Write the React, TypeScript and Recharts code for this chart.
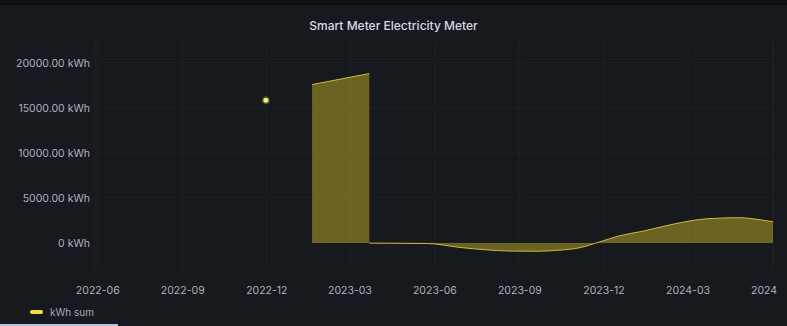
import {
  ComposedChart,
  Area,
  Line,
  XAxis,
  YAxis,
  CartesianGrid,
  Legend,
} from 'recharts';

// readings, kWh
const dotDates = ['2022-11-30'];
const dotValues = [15820];

const surgeDates = ['2023-01-19', '2023-03-22'];
const surgeValues = [17560, 18780];

const usageDates = [
  '2023-03-22', '2023-04-25', '2023-05-24', '2023-06-28', '2023-07-25',
  '2023-08-21', '2023-09-18', '2023-10-14', '2023-11-04', '2023-11-26',
  '2023-12-18', '2024-01-12', '2024-02-17', '2024-03-24', '2024-04-26',
  '2024-05-18', '2024-06-01',
];
const usageValues = [
  -20, -40, -60, -500, -750,
  -900, -920, -800, -550, 100,
  800, 1300, 2150, 2700, 2800,
  2570, 2350,
];

const xTicks = [
  '2022-06-01', '2022-09-01', '2022-12-01', '2023-03-01', '2023-06-01',
  '2023-09-01', '2023-12-01', '2024-03-01', '2024-06-01',
];
const yTicks = [0, 5000, 10000, 15000, 20000];

const ts = (d: string) => Date.parse(d + 'T00:00:00Z');

const data = [
  ...dotDates.map((d, i) => ({ t: ts(d), dot: dotValues[i] })),
  { t: ts('2022-12-20'), surge: null, dot: null },
  ...surgeDates.map((d, i) => ({ t: ts(d), surge: surgeValues[i] })),
  ...usageDates.map((d, i) => ({ t: ts(d) + 1, usage: usageValues[i] })),
];

const fmtMonth = (v: number) => {
  const d = new Date(v);
  return `${d.getUTCFullYear()}-${String(d.getUTCMonth() + 1).padStart(2, '0')}`;
};

const fmtKwh = (v: number) => (v === 0 ? '0 kWh' : `${v.toFixed(2)} kWh`);

const YELLOW = '#fade2a';
const FONT = 'Inter, "Noto Sans", sans-serif';
const LABEL = '#b0b0ba';

function YTick({ x, y, payload }: { x?: number; y?: number; payload?: { value: number } }) {
  return (
    <text x={x} y={y} dy={4} textAnchor="end" fill={LABEL} fontSize={10.5} fontFamily={FONT}>
      {fmtKwh(payload?.value ?? 0)}
    </text>
  );
}

function LegendContent() {
  return (
    <div style={{ display: 'flex', alignItems: 'center', gap: 7, fontFamily: FONT, fontSize: 10, color: '#a8a8b4' }}>
      <div style={{ width: 13, height: 4, borderRadius: 2, background: YELLOW }} />
      <span>kWh sum</span>
    </div>
  );
}

export default function App() {
  return (
    <div
      style={{
        position: 'absolute',
        left: 0,
        top: 0,
        width: 787,
        height: 326,
        background: '#16191e',
        overflow: 'hidden',
      }}
    >
      <div style={{ position: 'absolute', left: 0, top: 0, width: 787, height: 5, background: '#0f1013' }} />
      <div
        style={{
          position: 'absolute',
          top: 18,
          width: 787,
          textAlign: 'center',
          fontFamily: FONT,
          fontSize: 12,
          fontWeight: 500,
          color: '#d8d8e0',
        }}
      >
        Smart Meter Electricity Meter
      </div>
      <ComposedChart
        width={777}
        height={326}
        data={data}
        margin={{ top: 40, right: 4, left: 0, bottom: 0 }}
      >
        <CartesianGrid stroke="#1e2126" strokeWidth={1} />
        <XAxis
          dataKey="t"
          type="number"
          scale="time"
          domain={[ts('2022-05-29'), ts('2024-06-01')]}
          ticks={xTicks.map(ts)}
          tickFormatter={fmtMonth}
          axisLine={false}
          tickLine={false}
          tickSize={0}
          tickMargin={17}
          height={34}
          interval={0}
          tick={{ fill: LABEL, fontSize: 10.5, fontFamily: FONT }}
        />
        <YAxis
          type="number"
          domain={[-3000, 22500]}
          ticks={yTicks}
          axisLine={false}
          tickLine={false}
          tickSize={0}
          tickMargin={5}
          width={95}
          interval={0}
          tick={<YTick />}
        />
        <Legend
          verticalAlign="bottom"
          align="left"
          height={22}
          wrapperStyle={{ left: 30, bottom: -2 }}
          content={<LegendContent />}
        />
        <Area
          dataKey="surge"
          type="linear"
          stroke="#d0bc2c"
          strokeWidth={1}
          fill={YELLOW}
          fillOpacity={0.38}
          isAnimationActive={false}
          legendType="none"
        />
        <Area
          dataKey="usage"
          type="monotone"
          stroke="#d0bc2c"
          strokeWidth={1}
          fill={YELLOW}
          fillOpacity={0.38}
          isAnimationActive={false}
          legendType="none"
        />
        <Line
          dataKey="dot"
          stroke="none"
          dot={{ r: 2.5, fill: '#eef0a8', stroke: 'rgba(250,222,42,0.25)', strokeWidth: 3 }}
          isAnimationActive={false}
          legendType="none"
        />
      </ComposedChart>
      <div style={{ position: 'absolute', left: 0, top: 324, width: 118, height: 2, background: '#a9c7df' }} />
    </div>
  );
}
